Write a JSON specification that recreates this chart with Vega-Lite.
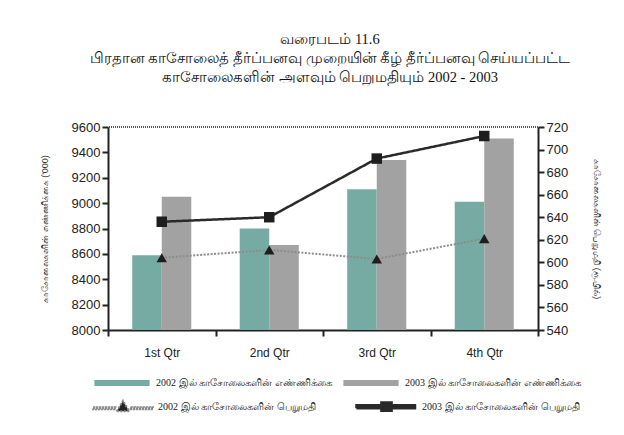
{
  "$schema": "https://vega.github.io/schema/vega-lite/v6.json",
  "width": 430,
  "height": 203,
  "autosize": {"type": "none"},
  "padding": {"left": 108, "top": 127, "right": 86, "bottom": 105},
  "background": "white",
  "title": {
    "text": ["வரைபடம் 11.6", "பிரதான காசோலைத் தீர்ப்பனவு முறையின் கீழ் தீர்ப்பனவு செய்யப்பட்ட", "காசோலைகளின் அளவும் பெறுமதியும் 2002 - 2003"],
    "anchor": "middle",
    "font": "Liberation Serif",
    "fontSize": 14.5,
    "fontWeight": "normal",
    "lineHeight": 19,
    "offset": 36,
    "dx": 7,
    "color": "#111"
  },
  "datasets": {
    "counts": [
      {"q": "1st Qtr", "s": "2002 இல் காசோலைகளின் எண்ணிக்கை", "n": 8590},
      {"q": "2nd Qtr", "s": "2002 இல் காசோலைகளின் எண்ணிக்கை", "n": 8800},
      {"q": "3rd Qtr", "s": "2002 இல் காசோலைகளின் எண்ணிக்கை", "n": 9110},
      {"q": "4th Qtr", "s": "2002 இல் காசோலைகளின் எண்ணிக்கை", "n": 9010},
      {"q": "1st Qtr", "s": "2003 இல் காசோலைகளின் எண்ணிக்கை", "n": 9050},
      {"q": "2nd Qtr", "s": "2003 இல் காசோலைகளின் எண்ணிக்கை", "n": 8670},
      {"q": "3rd Qtr", "s": "2003 இல் காசோலைகளின் எண்ணிக்கை", "n": 9340},
      {"q": "4th Qtr", "s": "2003 இல் காசோலைகளின் எண்ணிக்கை", "n": 9510}
    ],
    "values": [
      {"q": "1st Qtr", "s": "2002 இல் காசோலைகளின் பெறுமதி", "v": 604},
      {"q": "2nd Qtr", "s": "2002 இல் காசோலைகளின் பெறுமதி", "v": 611},
      {"q": "3rd Qtr", "s": "2002 இல் காசோலைகளின் பெறுமதி", "v": 603},
      {"q": "4th Qtr", "s": "2002 இல் காசோலைகளின் பெறுமதி", "v": 621},
      {"q": "1st Qtr", "s": "2003 இல் காசோலைகளின் பெறுமதி", "v": 636},
      {"q": "2nd Qtr", "s": "2003 இல் காசோலைகளின் பெறுமதி", "v": 640},
      {"q": "3rd Qtr", "s": "2003 இல் காசோலைகளின் பெறுமதி", "v": 692},
      {"q": "4th Qtr", "s": "2003 இல் காசோலைகளின் பெறுமதி", "v": 712}
    ]
  },
  "config": {
    "view": {"stroke": null},
    "axis": {
      "labelFont": "Liberation Sans",
      "labelFontSize": 13,
      "labelColor": "#222",
      "labelOverlap": false,
      "domainColor": "#222",
      "domainWidth": 2,
      "tickColor": "#222",
      "tickWidth": 2,
      "tickSize": 6,
      "grid": false,
      "titleFontWeight": "normal",
      "titleFontSize": 9,
      "titleColor": "#333"
    },
    "legend": {
      "labelFont": "Liberation Serif",
      "labelFontSize": 10,
      "labelColor": "#222",
      "labelLimit": 300
    }
  },
  "layer": [
    {
      "data": {"name": "counts"},
      "layer": [
        {
          "mark": {"type": "bar", "clip": true},
          "encoding": {
            "x": {
              "field": "q", "type": "nominal", "sort": null,
              "scale": {"paddingInner": 0, "paddingOuter": 0},
              "axis": {"title": null, "labelAngle": 0, "tickBand": "extent", "labelPadding": 11, "labelFontSize": 12}
            },
            "xOffset": {
              "field": "s", "type": "nominal", "sort": null,
              "scale": {"paddingInner": 0, "paddingOuter": 0.82}
            },
            "y": {
              "field": "n", "type": "quantitative",
              "scale": {"domain": [8000, 9600], "zero": false, "nice": false},
              "axis": {"values": [8000, 8200, 8400, 8600, 8800, 9000, 9200, 9400, 9600], "format": "d", "labelOverlap": false, "title": "காசோலைகளின் எண்ணிக்கை ('000)", "titlePadding": 22}
            },
            "fill": {
              "field": "s", "type": "nominal", "sort": null,
              "scale": {"range": ["#76aba4", "#a2a2a2"]},
              "legend": {
                "title": null,
                "orient": "none",
                "direction": "horizontal",
                "legendX": -16,
                "legendY": 226,
                "symbolType": "M-0.92,-0.1H0.92V0.1H-0.92Z",
                "symbolSize": 3600,
                "symbolStrokeWidth": 0,
                "columnPadding": 9
              }
            }
          }
        },
        {
          "mark": {"type": "rule", "strokeDash": [1, 1], "color": "#555", "strokeWidth": 1},
          "encoding": {
            "y": {
              "datum": 9600, "type": "quantitative",
              "axis": {"values": [8000, 8200, 8400, 8600, 8800, 9000, 9200, 9400, 9600], "format": "d", "labelOverlap": false, "title": "காசோலைகளின் எண்ணிக்கை ('000)", "titlePadding": 22}
            }
          }
        }
      ]
    },
    {
      "data": {"name": "values"},
      "layer": [
        {
          "mark": {"type": "line"},
          "encoding": {
            "x": {"field": "q", "type": "nominal", "sort": null},
            "y": {
              "field": "v", "type": "quantitative",
              "scale": {"domain": [540, 720], "zero": false, "nice": false},
              "axis": {"orient": "right", "values": [540, 560, 580, 600, 620, 640, 660, 680, 700, 720], "format": "d", "labelOverlap": false, "title": "காசோலைகளின் பெறுமதி (ரூ.பில்)", "titlePadding": 24}
            },
            "stroke": {
              "field": "s", "type": "nominal", "sort": null,
              "scale": {"range": ["#8c8c8c", "#2a2a2a"]},
              "legend": {
                "title": null,
                "orient": "none",
                "direction": "horizontal",
                "legendX": -16,
                "legendY": 248,
                "symbolSize": 3600,
                "columnPadding": 35,
                "encode": {
                  "symbols": {
                    "update": {
                      "shape": {"signal": "indexof(datum.value, '2002') === 0 ? 'M-0.21,0.15L0,-0.2L0.21,0.15Z M-1,0.02h0.05v0.06h-0.05Z M-0.9,0.02h0.05v0.06h-0.05Z M-0.8,0.02h0.05v0.06h-0.05Z M-0.7,0.02h0.05v0.06h-0.05Z M-0.6,0.02h0.05v0.06h-0.05Z M-0.5,0.02h0.05v0.06h-0.05Z M-0.4,0.02h0.05v0.06h-0.05Z M-0.3,0.02h0.05v0.06h-0.05Z M0.25,0.02h0.05v0.06h-0.05Z M0.35,0.02h0.05v0.06h-0.05Z M0.45,0.02h0.05v0.06h-0.05Z M0.55,0.02h0.05v0.06h-0.05Z M0.65,0.02h0.05v0.06h-0.05Z M0.75,0.02h0.05v0.06h-0.05Z M0.85,0.02h0.05v0.06h-0.05Z M0.95,0.02h0.05v0.06h-0.05Z' : 'M-1,-0.05H0.95V0.05H-1Z M-0.17,-0.14H0.17V0.14H-0.17Z'"},
                      "fill": {"value": "#222"},
                      "stroke": {"value": "transparent"},
                      "strokeWidth": {"value": 0}
                    }
                  }
                }
              }
            },
            "strokeDash": {
              "field": "s", "type": "nominal", "sort": null,
              "scale": {"range": [[2, 1.5], [1, 0]]},
              "legend": null
            },
            "strokeWidth": {
              "field": "s", "type": "nominal", "sort": null,
              "scale": {"range": [2, 2.5]},
              "legend": null
            }
          }
        },
        {
          "mark": {"type": "point", "filled": true, "opacity": 1, "color": "#1e1e1e", "size": 110},
          "encoding": {
            "x": {"field": "q", "type": "nominal", "sort": null},
            "y": {
              "field": "v", "type": "quantitative",
              "axis": {"orient": "right", "values": [540, 560, 580, 600, 620, 640, 660, 680, 700, 720], "format": "d", "labelOverlap": false, "title": "காசோலைகளின் பெறுமதி (ரூ.பில்)", "titlePadding": 24}
            },
            "shape": {
              "field": "s", "type": "nominal", "sort": null,
              "scale": {"range": ["triangle-up", "square"]},
              "legend": null
            }
          }
        }
      ]
    }
  ],
  "resolve": {"scale": {"y": "independent"}}
}
